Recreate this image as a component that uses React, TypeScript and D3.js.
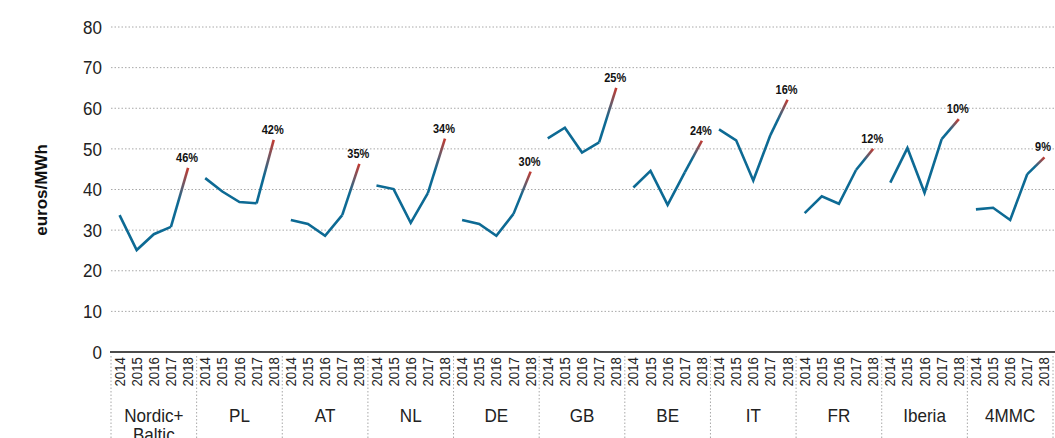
import React from "react";
import * as d3 from "d3";

const years = ["2014", "2015", "2016", "2017", "2018"];
const regions = ["Nordic+ Baltic", "PL", "AT", "NL", "DE", "GB", "BE", "IT", "FR", "Iberia", "4MMC"];

const nordicBaltic = [33.7, 25.1, 29.0, 30.8, 45.3];
const pl = [42.8, 39.5, 36.9, 36.6, 52.2];
const at = [32.5, 31.5, 28.6, 33.7, 46.3];
const nl = [41.0, 40.1, 31.8, 39.1, 52.5];
const de = [32.5, 31.5, 28.6, 34.0, 44.4];
const gb = [52.6, 55.2, 49.1, 51.6, 65.0];
const be = [40.5, 44.6, 36.2, 44.2, 52.0];
const it = [54.8, 52.1, 42.2, 53.4, 62.1];
const fr = [34.2, 38.3, 36.5, 44.8, 50.0];
const iberia = [41.7, 50.2, 39.2, 52.4, 57.3];
const mmc4 = [35.1, 35.5, 32.5, 43.8, 47.9];

const series = [nordicBaltic, pl, at, nl, de, gb, be, it, fr, iberia, mmc4];
const changeLabels = ["46%", "42%", "35%", "34%", "30%", "25%", "24%", "16%", "12%", "10%", "9%"];
const yTicks = [0, 10, 20, 30, 40, 50, 60, 70, 80];

const W = 1055;
const H = 438;
const blue = "#0d6a94";
const red = "#c43a31";
const sans = "'Liberation Sans', Arial, sans-serif";

export default function App() {
  const keys = regions.flatMap((r) => years.map((y) => `${r}|${y}`));
  const x = d3.scaleBand().domain(keys).range([111, 1053]);
  const y = d3.scaleLinear().domain([0, 80]).range([352, 27]);
  const cx = (r: string, yr: string) => (x(`${r}|${yr}`) as number) + x.bandwidth() / 2;
  const groupW = x.bandwidth() * years.length;
  const line = d3
    .line<[number, number]>()
    .x((d) => d[0])
    .y((d) => d[1]);

  return (
    <svg width={W} height={H} style={{ position: "absolute", left: 0, top: 0, background: "#fff" }}>
      <defs>
        {regions.map((r, i) => {
          const v = series[i];
          return (
            <linearGradient
              key={r}
              id={`g${i}`}
              gradientUnits="userSpaceOnUse"
              x1={cx(r, "2017")}
              y1={y(v[3])}
              x2={cx(r, "2018")}
              y2={y(v[4])}
            >
              <stop offset="0" stopColor={blue} />
              <stop offset="0.42" stopColor={blue} />
              <stop offset="0.7" stopColor="#6a5a68" />
              <stop offset="1" stopColor={red} />
            </linearGradient>
          );
        })}
      </defs>

      {/* gridlines */}
      {yTicks.slice(1).map((t) => (
        <line key={t} x1={111} x2={1055} y1={y(t)} y2={y(t)} stroke="#a8a8a8" strokeWidth={1} strokeDasharray="1.5,2" />
      ))}

      {/* y tick labels */}
      {yTicks.map((t) => (
        <text
          key={t}
          transform={`translate(102,${y(t)}) scale(0.92,1)`}
          dy="0.36em"
          textAnchor="end"
          fontFamily={sans}
          fontSize={18.5}
          fill="#222"
        >
          {t}
        </text>
      ))}

      <text
        transform={`translate(47,190) rotate(-90)`}
        textAnchor="middle"
        fontFamily={sans}
        fontWeight="bold"
        fontSize={17}
        fill="#111"
      >
        euros/MWh
      </text>

      {/* group separators */}
      {d3.range(regions.length + 1).map((i) => (
        <line
          key={i}
          x1={111 + i * groupW}
          x2={111 + i * groupW}
          y1={356}
          y2={H}
          stroke="#a8a8a8"
          strokeWidth={1}
          strokeDasharray="1.5,2"
        />
      ))}

      {/* lines */}
      {regions.map((r, i) => {
        const v = series[i];
        const pts: [number, number][] = years.map((yr, j) => [cx(r, yr), y(v[j])]);
        const lx = Math.min(pts[4][0] - 1, 1043);
        return (
          <g key={r}>
            <path d={line(pts.slice(0, 4)) as string} fill="none" stroke={blue} strokeWidth={2.6} />
            <path d={line(pts.slice(3)) as string} fill="none" stroke={`url(#g${i})`} strokeWidth={2.6} />
            <text
              transform={`translate(${lx},${pts[4][1] - 6}) scale(0.88,1)`}
              textAnchor="middle"
              fontFamily={sans}
              fontWeight="bold"
              fontSize={12.5}
              fill="#111"
            >
              {changeLabels[i]}
            </text>
          </g>
        );
      })}

      {/* axis line */}
      <line x1={110} x2={1055} y1={352} y2={352} stroke="#111" strokeWidth={1.6} />

      {/* year labels */}
      {regions.map((r) =>
        years.map((yr) => (
          <text
            key={`${r}${yr}`}
            transform={`translate(${cx(r, yr)},357) rotate(-90) scale(0.95,1)`}
            textAnchor="end"
            dy="0.36em"
            fontFamily={sans}
            fontSize={14}
            fill="#222"
          >
            {yr}
          </text>
        ))
      )}

      {/* group labels */}
      {regions.map((r, i) => {
        const mid = 111 + (i + 0.5) * groupW;
        const parts = r === "Nordic+ Baltic" ? ["Nordic+", "Baltic"] : [r];
        return (
          <text
            key={r}
            transform={`translate(${mid},422) scale(0.95,1)`}
            textAnchor="middle"
            fontFamily={sans}
            fontSize={18}
            fill="#222"
          >
            {parts.map((p, k) => (
              <tspan key={p} x={0} dy={k === 0 ? 0 : 19}>
                {p}
              </tspan>
            ))}
          </text>
        );
      })}
    </svg>
  );
}
